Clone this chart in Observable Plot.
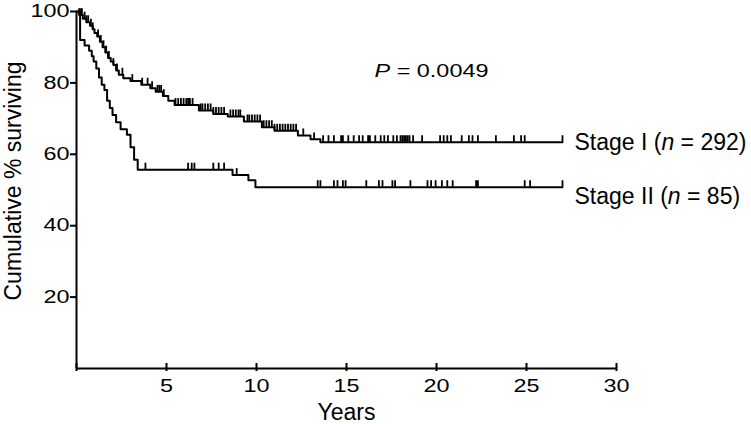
<!DOCTYPE html>
<html><head><meta charset="utf-8">
<script src="https://cdn.jsdelivr.net/npm/d3@7"></script>
<script src="https://cdn.jsdelivr.net/npm/@observablehq/plot@0.6"></script>
<style>body{margin:0;background:#fff} svg{display:block}</style>
</head><body><div id="chart"></div>
<script>
// ---- data ----
const xTicks = [0, 5, 10, 15, 20, 25, 30];
const xTickLabels = [5, 10, 15, 20, 25, 30];
const yTicks = [20, 40, 60, 80, 100];
const endTime = 27;

const stage1Times = [0, 0.15, 0.35, 0.55, 0.75, 0.9, 1.0, 1.15, 1.3, 1.45, 1.6, 1.75, 1.9, 2.05, 2.2, 2.35, 2.6, 3.0, 3.6, 4.1, 4.4, 4.8, 5.1, 5.45, 6.8, 7.6, 8.4, 9.3, 10.3, 11.0, 12.3, 13.0, 13.55];
const stage1Surv  = [100, 99, 98, 97, 96, 95, 94, 93, 91.5, 90, 88.5, 87, 86, 85, 83.5, 82.3, 81.3, 80.5, 79.5, 78.5, 77.5, 76.3, 75, 73.8, 72.3, 71.3, 70.6, 69.2, 67.6, 66.6, 65.3, 64.2, 63.4];
const stage1Censor = [0.15, 0.25, 0.3, 0.45, 0.55, 0.65, 0.8, 0.9, 1.2, 1.35, 1.5, 1.65, 1.8, 2.05, 2.25, 2.55, 3.1, 3.65, 3.95, 4.2, 4.5, 4.6, 4.7, 4.85, 5.5, 5.65, 5.8, 5.95, 6.1, 6.2, 6.3, 6.45, 6.9, 7.0, 7.15, 7.3, 7.45, 7.6, 7.75, 7.9, 8.05, 8.2, 8.55, 8.7, 8.85, 9.0, 9.1, 9.5, 9.6, 9.75, 9.9, 10.05, 10.2, 10.4, 10.55, 10.7, 10.85, 11.0, 11.15, 11.3, 11.45, 11.6, 11.75, 11.9, 12.05, 12.2, 12.6, 13.2, 13.7, 14.0, 14.3, 14.7, 14.8, 15.1, 15.4, 15.7, 15.9, 16.2, 16.3, 16.6, 16.9, 17.1, 17.3, 17.6, 17.8, 18.0, 18.1, 18.2, 18.3, 18.4, 18.5, 18.7, 19.2, 20.2, 20.4, 20.6, 20.8, 21.4, 21.8, 22.0, 22.3, 23.3, 24.3, 24.7, 24.9, 27.0];

const stage2Times = [0, 0.2, 0.45, 0.7, 0.85, 0.95, 1.1, 1.25, 1.4, 1.55, 1.7, 1.85, 2.0, 2.2, 2.45, 2.8, 3.0, 3.2, 3.4, 8.67, 9.55, 9.94];
const stage2Surv  = [100, 92, 90.5, 89, 87.5, 86, 84, 81.5, 79.5, 78, 75, 73, 71, 69, 67, 65.5, 62, 58.5, 55.7, 54.2, 52.7, 50.8];
const stage2Censor = [3.83, 6.2, 6.4, 6.55, 7.6, 7.9, 8.2, 8.9, 13.4, 13.55, 14.3, 14.5, 14.8, 14.95, 16.1, 16.8, 17.0, 17.55, 17.7, 18.55, 19.5, 19.7, 19.95, 20.3, 20.6, 20.9, 22.2, 22.3, 24.9, 25.2, 27.0];

const seriesNames = ["Stage I", "Stage II"];
const seriesN = [292, 85];
const pLabel = "P = 0.0049";
const xTitle = "Years";
const yTitle = "Cumulative % surviving";

// ---- build ----
const series = [
  {name: seriesNames[0], n: seriesN[0], times: stage1Times, surv: stage1Surv, censor: stage1Censor},
  {name: seriesNames[1], n: seriesN[1], times: stage2Times, surv: stage2Surv, censor: stage2Censor}
];
function levelAt(times, surv, t) {
  let v = surv[0];
  for (let i = 0; i < times.length; i++) if (times[i] <= t) v = surv[i];
  return v;
}
const lineData = series.flatMap(s => [
  ...s.times.map((t, i) => ({series: s.name, t, s: s.surv[i]})),
  {series: s.name, t: endTime, s: s.surv[s.surv.length - 1]}
]);
const censorData = series.flatMap(s => s.censor.map(t => ({series: s.name, t, s: levelAt(s.times, s.surv, t)})));
const endLabels = series.map(s => ({series: s.name, t: endTime, s: s.surv[s.surv.length - 1], text: `${s.name} (n = ${s.n})`}));
const tickLen = 1.8;
const font = "Liberation Sans, Arial, Helvetica, sans-serif";

const plot = Plot.plot({
  width: 751, height: 424,
  marginLeft: 76, marginRight: 135, marginTop: 11, marginBottom: 56,
  x: {domain: [0, 30]},
  y: {domain: [0, 100]},
  style: {fontFamily: font, color: "#000", background: "#fff"},
  marks: [
    Plot.ruleX([0], {stroke: "#000", strokeWidth: 2}),
    Plot.ruleY([0], {stroke: "#000", strokeWidth: 2}),
    Plot.axisY({ticks: yTicks, tickSize: 6, tickPadding: 1, fontSize: 18, label: null, strokeWidth: 2}),
    Plot.axisX({ticks: xTicks, tickSize: 8, dy: -5, tickFormat: () => "", label: null, strokeWidth: 2}),
    Plot.axisX({ticks: xTickLabels, tickSize: 0, tickPadding: 11, fontSize: 18, label: null}),
    Plot.line(lineData, {x: "t", y: "s", z: "series", curve: "step-after", stroke: "#000", strokeWidth: 2}),
    Plot.ruleX(censorData, {x: "t", y1: "s", y2: d => d.s + tickLen, stroke: "#000", strokeWidth: 1.8}),
    Plot.text([endLabels[0]], {x: "t", y: "s", text: "text", dx: 12, textAnchor: "start", lineAnchor: "middle", fontSize: 23, fill: "#000"}),
    Plot.text([endLabels[1]], {x: "t", y: "s", text: "text", dx: 12, dy: 9, textAnchor: "start", lineAnchor: "middle", fontSize: 23, fill: "#000"}),
    Plot.text([pLabel], {frameAnchor: "top", dx: 85, dy: 60, textAnchor: "middle", lineAnchor: "middle", fontSize: 18, fill: "#000"}),
    Plot.text([xTitle], {frameAnchor: "bottom", dy: 44, textAnchor: "middle", lineAnchor: "middle", fontSize: 23, fill: "#000"}),
    Plot.text([yTitle], {frameAnchor: "left", dx: -63, dy: -9, rotate: -90, textAnchor: "middle", lineAnchor: "middle", fontSize: 23, fill: "#000"})
  ]
});
document.getElementById("chart").appendChild(plot);

// italic parts
const italics = {
  [pLabel]: `<tspan font-style="italic">P</tspan> = 0.0049`
};
endLabels.forEach((d, i) => {
  italics[d.text] = `${seriesNames[i]} (<tspan font-style="italic">n</tspan> = ${seriesN[i]})`;
});
const stretchTexts = [];
plot.querySelectorAll("text").forEach(t => {
  const c = t.textContent;
  if (italics[c]) t.innerHTML = italics[c];
  if (c === pLabel) stretchTexts.push(t);
});
plot.querySelectorAll('g[aria-label$="tick label"] text').forEach(t => stretchTexts.push(t));
stretchTexts.forEach(t => {
  const L = t.getComputedTextLength();
  if (L > 0) {
    t.setAttribute("textLength", L * 1.3);
    t.setAttribute("lengthAdjust", "spacingAndGlyphs");
  }
});
</script>
</body></html>
